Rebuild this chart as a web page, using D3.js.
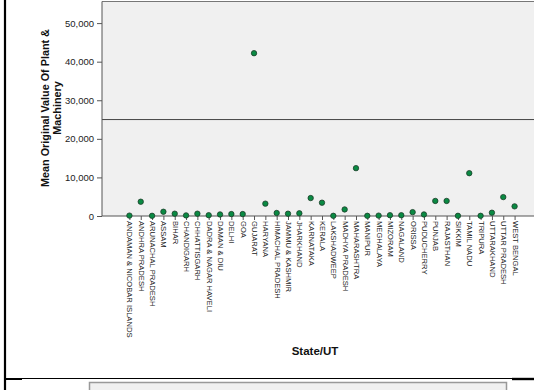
<!DOCTYPE html>
<html>
<head>
<meta charset="utf-8">
<script src="https://cdn.jsdelivr.net/npm/d3@7"></script>
<style>
  html, body { margin: 0; padding: 0; background: #fff; }
  svg { display: block; }
  text { font-family: "Liberation Sans", Arial, sans-serif; }
</style>
</head>
<body>
<svg id="chart" width="534" height="390"></svg>
<script>
// States / union territories along the category axis
const states = [
  "ANDAMAN & NICOBAR ISLANDS", "ANDHRA PRADESH", "ARUNACHAL PRADESH", "ASSAM",
  "BIHAR", "CHANDIGARH", "CHHATTISGARH", "DADRA & NAGAR HAVELI", "DAMAN & DIU",
  "DELHI", "GOA", "GUJARAT", "HARYANA", "HIMACHAL PRADESH", "JAMMU & KASHMIR",
  "JHARKHAND", "KARNATAKA", "KERALA", "LAKSHADWEEP", "MADHYA PRADESH",
  "MAHARASHTRA", "MANIPUR", "MEGHALAYA", "MIZORAM", "NAGALAND", "ORISSA",
  "PUDUCHERRY", "PUNJAB", "RAJASTHAN", "SIKKIM", "TAMIL NADU", "TRIPURA",
  "UTTARAKHAND", "UTTAR PRADESH", "WEST BENGAL"
];

// Mean original value of plant & machinery per state
const meanValues = [
  100, 3700, 50, 1100,
  600, 150, 600, 200, 400,
  500, 500, 42200, 3200, 780, 600,
  700, 4650, 3450, 50, 1700,
  12400, 50, 100, 200, 200, 1000,
  400, 3900, 3900, 50, 11100, 50,
  850, 4900, 2500
];

// Y axis ticks and the horizontal reference line
const yTicks = [0, 10000, 20000, 30000, 40000, 50000];
const referenceValue = 25000;

const svg = d3.select("#chart");

// Plot frame
const plotLeft = 102, plotRight = 542, plotTop = 1.5, plotBottom = 216;

const x = d3.scalePoint()
  .domain(states)
  .range([plotLeft, plotRight])
  .padding(2.42);

const y = d3.scaleLinear()
  .domain([0, 55600])
  .range([plotBottom, plotTop]);

// Outer frame lines
svg.append("line")
  .attr("x1", 5).attr("x2", 5).attr("y1", 0).attr("y2", 390)
  .attr("stroke", "#000").attr("stroke-width", 2.2);
svg.append("line")
  .attr("x1", 5).attr("x2", 534).attr("y1", 378.5).attr("y2", 378.5)
  .attr("stroke", "#000").attr("stroke-width", 1.2);
svg.append("line")
  .attr("x1", 5).attr("x2", 22).attr("y1", 379).attr("y2", 379)
  .attr("stroke", "#000").attr("stroke-width", 2);
svg.append("line")
  .attr("x1", 512).attr("x2", 534).attr("y1", 379).attr("y2", 379)
  .attr("stroke", "#000").attr("stroke-width", 2.4);

// Panel below the chart
svg.append("rect")
  .attr("x", 89.5).attr("y", 382.5).attr("width", 417).attr("height", 20)
  .attr("fill", "#f0f0f0").attr("stroke", "#999").attr("stroke-width", 1.5);

// Plot background
svg.append("rect")
  .attr("x", plotLeft).attr("y", plotTop)
  .attr("width", plotRight - plotLeft).attr("height", plotBottom - plotTop)
  .attr("fill", "#f0f0f0");
svg.append("line")
  .attr("x1", plotLeft).attr("x2", plotRight).attr("y1", plotTop).attr("y2", plotTop)
  .attr("stroke", "#777").attr("stroke-width", 1);

// Reference line
svg.append("line")
  .attr("x1", plotLeft).attr("x2", plotRight)
  .attr("y1", y(referenceValue)).attr("y2", y(referenceValue))
  .attr("stroke", "#444").attr("stroke-width", 1);

// Y axis
const yAxis = svg.append("g")
  .attr("transform", `translate(${plotLeft},0)`)
  .call(d3.axisLeft(y).tickValues(yTicks).tickFormat(d3.format(",")).tickSize(5).tickPadding(3));
yAxis.select(".domain").attr("stroke", "#555").attr("d", `M0,${plotTop}V${plotBottom}`);
yAxis.selectAll(".tick line").attr("stroke", "#555");
yAxis.selectAll(".tick text")
  .attr("fill", "#222")
  .style("font-size", "9.5px")
  .style("font-family", "'Liberation Sans', Arial, sans-serif");

// X axis
const xAxis = svg.append("g")
  .attr("transform", `translate(0,${plotBottom})`)
  .call(d3.axisBottom(x).tickSize(4).tickPadding(2));
xAxis.select(".domain").attr("stroke", "#555").attr("d", `M${plotLeft},0H${plotRight}`);
xAxis.selectAll(".tick line").attr("stroke", "#555");
xAxis.selectAll(".tick text")
  .attr("fill", "#222")
  .attr("transform", "rotate(90)")
  .attr("text-anchor", "start")
  .attr("x", 5)
  .attr("y", 0)
  .attr("dy", "0.33em")
  .style("font-size", "7.6px")
  .style("font-family", "'Liberation Sans', Arial, sans-serif");

// Points
svg.append("g")
  .selectAll("circle")
  .data(states.map((s, i) => ({ state: s, value: meanValues[i] })))
  .join("circle")
  .attr("cx", d => x(d.state))
  .attr("cy", d => y(d.value))
  .attr("r", 2.7)
  .attr("fill", "#0a8a43")
  .attr("stroke", "#1d3d2a")
  .attr("stroke-width", 0.8);

// Axis titles
const yTitle = svg.append("text")
  .attr("transform", "translate(49,108) rotate(-90)")
  .attr("text-anchor", "middle")
  .attr("font-weight", "bold")
  .attr("fill", "#111")
  .style("font-size", "10.8px");
yTitle.append("tspan").attr("x", 0).attr("dy", 0).text("Mean Original Value Of Plant &");
yTitle.append("tspan").attr("x", 0).attr("dy", "1.1em").text("Machinery");

svg.append("text")
  .attr("x", 315)
  .attr("y", 355)
  .attr("text-anchor", "middle")
  .attr("font-weight", "bold")
  .attr("fill", "#111")
  .style("font-size", "11.5px")
  .text("State/UT");
</script>
</body>
</html>
